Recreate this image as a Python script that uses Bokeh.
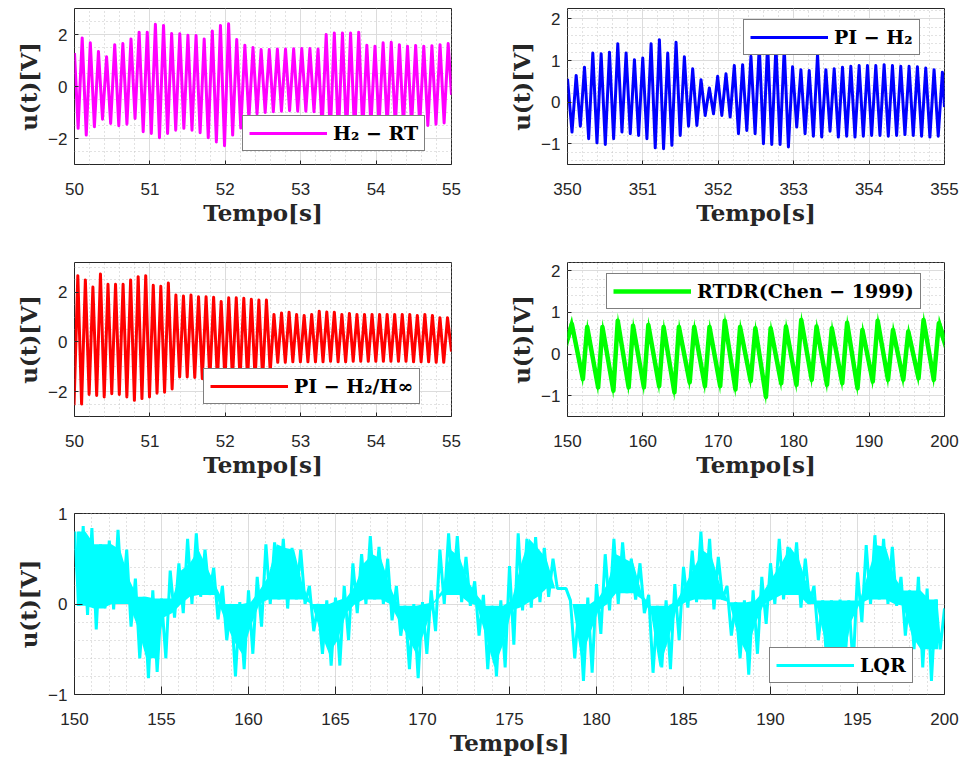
import numpy as np
from bokeh.plotting import figure
from bokeh.layouts import column, row
from bokeh.models import Range1d, FixedTicker, Legend, LegendItem
from bokeh.embed import file_html
from bokeh.resources import INLINE

# ---------------------------------------------------------------- data
# H2 - RT, 50..55 s : peak and trough of every cycle
h2rt_peaks = [1.87, 1.68, 1.35, 1.14, 1.61, 1.65, 1.83, 2.09, 2.09, 2.39,
              2.35, 2.04, 2.03, 1.97, 1.96, 1.83, 2.13, 2.35, 2.41, 1.81,
              1.59, 1.50, 1.42, 1.42, 1.44, 1.44, 1.45, 1.46, 1.46, 1.44,
              2.00, 2.06, 2.06, 2.06, 2.09, 1.59, 1.55, 1.68, 1.70, 1.61,
              1.55, 1.58, 1.55, 1.57, 1.61, 1.65]
h2rt_troughs = [-1.61, -1.87, -1.55, -1.26, -1.42, -1.51, -1.45, -1.23, -1.74, -1.81,
                -1.97, -1.81, -1.68, -1.61, -1.68, -1.78, -1.97, -2.13, -2.28, -1.87,
                -1.60, -1.25, -1.05, -1.00, -0.97, -0.95, -0.93, -0.95, -0.95, -0.97,
                -1.60, -1.85, -1.90, -1.90, -1.90, -1.70, -1.50, -1.50, -1.55, -1.55,
                -1.50, -1.50, -1.50, -1.50, -1.45, -1.40]
h2rt_peak_times = (50.102, 54.956)
h2rt_start = (50.0, 1.29)
h2rt_end = (55.0, -0.32)

# PI - H2, 350..355 s
pih2_peaks = [0.64, 0.84, 1.18, 1.16, 1.20, 1.40, 1.18, 1.02, 1.06, 1.40,
              1.50, 1.18, 1.44, 1.09, 0.80, 0.54, 0.34, 0.62, 0.68, 0.88,
              0.90, 1.10, 1.35, 1.40, 1.35, 1.30, 0.85, 0.78, 0.76, 1.15,
              0.78, 0.80, 0.84, 0.86, 0.88, 0.88, 0.88, 0.90, 0.88, 0.86,
              0.86, 0.85, 0.82, 0.78, 0.72]
pih2_troughs = [-0.72, -0.58, -0.88, -0.98, -1.02, -0.88, -0.72, -0.76, -0.80, -0.88,
                -1.10, -1.12, -1.04, -0.80, -0.58, -0.56, -0.32, -0.28, -0.32, -0.36,
                -0.76, -0.68, -0.76, -1.00, -1.02, -1.02, -1.08, -0.60, -0.76, -0.82,
                -0.84, -0.70, -0.84, -0.82, -0.84, -0.82, -0.80, -0.80, -0.82, -0.80,
                -0.78, -0.80, -0.82, -0.84, -0.82]
pih2_peak_times = (350.115, 354.972)
pih2_start = (350.0, 0.56)
pih2_end = (355.0, -0.12)

# PI - H2/Hinf, 50..55 s
mix_peaks = [2.67, 2.50, 2.21, 2.74, 2.32, 2.32, 2.32, 2.50, 2.63, 2.67,
             2.28, 2.24, 2.37, 1.89, 1.85, 1.89, 1.82, 1.82, 1.80, 1.63,
             1.78, 1.78, 1.76, 1.72, 1.69, 1.69, 1.11, 1.17, 1.20, 1.11,
             1.07, 1.11, 1.24, 1.21, 1.20, 1.11, 1.15, 1.11, 1.11, 1.11,
             1.11, 1.11, 1.11, 1.11, 1.11, 1.07, 1.11, 1.07, 0.98, 0.98]
mix_troughs = [-2.55, -2.50, -2.11, -2.15, -2.21, -2.08, -2.11, -2.21, -2.35, -2.28,
               -2.21, -2.06, -2.02, -1.89, -1.41, -1.41, -1.43, -1.48, -1.50, -1.50,
               -1.52, -1.50, -1.50, -1.52, -1.50, -1.50, -1.20, -0.82, -0.82, -0.80,
               -0.80, -0.80, -0.80, -0.80, -0.78, -0.80, -0.80, -0.78, -0.78, -0.78,
               -0.78, -0.78, -0.78, -0.78, -0.78, -0.80, -0.80, -0.80, -0.82, -0.82]
mix_peak_times = (50.044, 54.947)
mix_end = (55.0, -0.39)

# RTDR (Chen - 1999), 150..200 s : cycle extremes of the noisy trace
rtdr_peaks = [0.92, 0.85, 0.85, 1.00, 0.88, 0.90, 0.85, 0.85, 0.85, 0.85,
              1.00, 0.85, 0.82, 0.82, 0.86, 1.02, 0.86, 0.82, 0.95, 0.78,
              1.00, 0.78, 0.74, 1.02, 0.94]
rtdr_troughs = [-0.80, -1.00, -1.08, -1.00, -1.00, -0.97, -1.12, -0.88, -0.97, -0.97,
                -1.05, -0.85, -1.23, -0.90, -0.94, -0.82, -0.94, -0.90, -1.02, -0.86,
                -0.82, -0.82, -0.78, -0.82]
rtdr_peak_times = (150.58, 199.25)
rtdr_trough_times = (152.04, 198.58)
rtdr_start = (150.0, 0.35)
rtdr_end = (200.0, 0.30)
rtdr_noise = 0.2

# LQR, 150..200 s : upper / lower excursion of each half second
lqr_hi = [0.80, 0.86, 0.84, 0.66, 0.70, 0.82, 0.60, 0.28, 0.08, 0.15,
          0.06, 0.37, 0.45, 0.72, 0.78, 0.60, 0.40, 0.20, 0.00, 0.02,
          0.15, 0.30, 0.66, 0.68, 0.72, 0.62, 0.60, 0.20, 0.00, 0.04,
          0.07, 0.20, 0.45, 0.55, 0.75, 0.63, 0.50, 0.20, -0.02, 0.00,
          0.02, 0.15, 0.60, 0.78, 0.75, 0.52, 0.25, 0.10, -0.02, 0.04,
          0.42, 0.78, 0.72, 0.74, 0.62, 0.50, 0.17, 0.04, 0.00, 0.07,
          0.22, 0.55, 0.72, 0.68, 0.50, 0.45, 0.10, -0.02, 0.04, 0.22,
          0.41, 0.59, 0.80, 0.72, 0.52, 0.20, 0.02, 0.04, 0.15, 0.30,
          0.45, 0.72, 0.63, 0.68, 0.50, 0.20, 0.04, 0.04, 0.05, 0.04,
          0.35, 0.65, 0.76, 0.72, 0.63, 0.30, 0.15, 0.30, 0.17, 0.05]
lqr_lo = [-0.02, -0.12, -0.28, -0.05, -0.06, 0.00, -0.25, -0.60, -0.82, -0.75,
          -0.60, -0.15, -0.10, 0.00, 0.08, 0.10, -0.17, -0.40, -0.80, -0.72,
          -0.55, -0.25, 0.00, 0.05, -0.05, 0.05, 0.00, -0.30, -0.55, -0.68,
          -0.68, -0.40, -0.10, 0.00, 0.05, 0.00, -0.18, -0.35, -0.72, -0.82,
          -0.55, -0.30, 0.00, 0.10, 0.02, -0.02, -0.35, -0.72, -0.80, -0.70,
          -0.45, -0.07, -0.04, 0.02, 0.08, 0.17, 0.17, -0.60, -0.85, -0.76,
          -0.33, -0.07, 0.00, 0.12, 0.05, -0.10, -0.76, -0.70, -0.72, -0.40,
          -0.04, 0.02, 0.05, -0.06, 0.05, -0.35, -0.60, -0.78, -0.55, -0.22,
          0.00, 0.05, 0.10, -0.04, 0.00, -0.40, -0.70, -0.75, -0.75, -0.70,
          -0.20, 0.00, 0.05, 0.00, -0.02, -0.35, -0.50, -0.70, -0.85, -0.50]
lqr_t0, lqr_step = 150.0, 0.5
lqr_end = (200.0, -0.05)

# ---------------------------------------------------------------- style
SANS = "Liberation Sans"
SERIF = "DejaVu Serif"
DARK = "#262626"
LW = 3.0


def oscillation(peaks, troughs, peak_times, start=None, end=None):
    """Trough -> peak sequence, one trough half a period before each peak."""
    tp = np.linspace(peak_times[0], peak_times[1], len(peaks))
    half = (tp[1] - tp[0]) / 2.0
    t, u = [], []
    if start is not None:
        t.append(start[0]); u.append(start[1])
    for tk, pk, tr in zip(tp, peaks, troughs):
        t += [tk - half, tk]
        u += [tr, pk]
    if end is not None:
        t.append(end[0]); u.append(end[1])
    return t, u


def panel(width, height, borders, xr, yr, xticks, xminor, yticks, yminor, tick_len):
    left, right, top, bottom = borders
    p = figure(width=width, height=height,
               x_range=Range1d(*xr), y_range=Range1d(*yr),
               output_backend="svg", toolbar_location=None,
               min_border_left=left, min_border_right=right,
               min_border_top=top, min_border_bottom=bottom)
    p.background_fill_color = "white"
    p.border_fill_color = "white"
    p.outline_line_color = DARK
    p.outline_line_width = 1

    xt = FixedTicker(ticks=list(xticks), minor_ticks=[float(v) for v in xminor])
    yt = FixedTicker(ticks=list(yticks), minor_ticks=[float(v) for v in yminor])
    p.xaxis.ticker = xt
    p.yaxis.ticker = yt
    for ax in p.axis:
        ax.axis_line_color = None
        ax.major_tick_in = tick_len
        ax.major_tick_out = 0
        ax.major_tick_line_color = DARK
        ax.minor_tick_in = 0
        ax.minor_tick_out = 0
        ax.major_label_text_font = SANS
        ax.major_label_text_font_size = "17px"
        ax.major_label_text_color = DARK

    bx, ly = p.below[0], p.left[0]
    bx.major_label_standoff = 18
    ly.major_label_standoff = 7
    bx.axis_label = "Tempo[s]"
    ly.axis_label = "u(t)[V]"
    for ax, st in ((bx, 1), (ly, 3)):
        ax.axis_label_text_font = SERIF
        ax.axis_label_text_font_style = "bold"
        ax.axis_label_text_font_size = "23px"
        ax.axis_label_text_color = DARK
        ax.axis_label_standoff = st

    p.xgrid.ticker = xt
    p.ygrid.ticker = yt
    for g in (p.xgrid, p.ygrid):
        g.grid_line_color = "#dcdcdc"
        g.grid_line_width = 1
        g.minor_grid_line_color = "#c4c4c4"
        g.minor_grid_line_dash = "1 3"
        g.minor_grid_line_width = 1
    return p


def add_legend(p, renderer, label, loc):
    lg = Legend(items=[LegendItem(label=label, renderers=[renderer])], location=loc)
    lg.label_text_font = SERIF
    lg.label_text_font_style = "bold"
    lg.label_text_font_size = "19px"
    lg.label_text_color = "black"
    lg.glyph_width = 78
    lg.glyph_height = 20
    lg.label_height = 20
    lg.label_standoff = 6
    lg.padding = 6
    lg.spacing = 0
    lg.margin = 0
    lg.border_line_color = "black"
    lg.border_line_width = 1
    lg.background_fill_color = "white"
    lg.background_fill_alpha = 1.0
    p.add_layout(lg)


# ---------------------------------------------------------------- panels
p1 = panel(480, 250, (74, 29, 8, 86), (50, 55), (-3, 3),
           range(50, 56), np.arange(50, 55.01, 0.2), [-2, 0, 2], np.arange(-3, 3.01, 0.5), 4)
t, u = oscillation(h2rt_peaks, h2rt_troughs, h2rt_peak_times, h2rt_start, h2rt_end)
r1 = p1.line(t, u, line_color="#ff00ff", line_width=LW, line_join="round")
add_legend(p1, r1, "H\u2082 \u2212 RT", (168, 13))

p2 = panel(483, 250, (87, 19, 8, 86), (350, 355), (-1.5, 2.25),
           range(350, 356), np.arange(350, 355.01, 0.2), [-1, 0, 1, 2], np.arange(-1.4, 2.21, 0.2), 4)
t, u = oscillation(pih2_peaks, pih2_troughs, pih2_peak_times, pih2_start, pih2_end)
r2 = p2.line(t, u, line_color="#0000ff", line_width=LW, line_join="round")
add_legend(p2, r2, "PI \u2212 H\u2082", (176, 109))

p3 = panel(480, 240, (74, 29, 8, 74), (50, 55), (-3, 3.2),
           range(50, 56), np.arange(50, 55.01, 0.2), [-2, 0, 2], np.arange(-3, 3.01, 0.5), 4)
t, u = oscillation(mix_peaks, mix_troughs, mix_peak_times, None, mix_end)
r3 = p3.line(t, u, line_color="#ff0000", line_width=LW, line_join="round")
add_legend(p3, r3, "PI \u2212 H\u2082/H\u221e", (129, 12))

p4 = panel(483, 240, (87, 19, 12, 74), (150, 200), (-1.5, 2.2),
           range(150, 201, 10), np.arange(150, 200.01, 2), [-1, 0, 1, 2], np.arange(-1.4, 2.21, 0.2), 4)
tp = np.linspace(rtdr_peak_times[0], rtdr_peak_times[1], len(rtdr_peaks))
tt = np.linspace(rtdr_trough_times[0], rtdr_trough_times[1], len(rtdr_troughs))
pts = [rtdr_start] + [(a, b - rtdr_noise) for a, b in zip(tp, rtdr_peaks)] \
      + [(a, b + rtdr_noise) for a, b in zip(tt, rtdr_troughs)] + [rtdr_end]
pts.sort()
t4 = np.array([a for a, _ in pts])
u4 = np.array([b for _, b in pts])
p4.varea(x=t4, y1=u4 - rtdr_noise, y2=u4 + rtdr_noise, fill_color="#00ff00")
r4 = p4.line(t4, u4, line_color="#00ff00", line_width=4.5, line_join="round")
add_legend(p4, r4, "RTDR(Chen \u2212 1999)", (39, 107))

p5 = panel(963, 270, (74, 19, 23, 66), (150, 200), (-1, 1),
           range(150, 201, 5), np.arange(150, 200.01, 1), [-1, 0, 1], np.arange(-1, 1.01, 0.2), 8)
hi = np.array(lqr_hi)
lo = np.array(lqr_lo)
t_hi = lqr_t0 + lqr_step * np.arange(len(hi))
t_lo = t_hi + lqr_step / 2
# dense core of the trace: between the lowest neighbouring top and the highest neighbouring bottom
hi_pad = np.concatenate([[hi[0]], hi, [hi[-1]]])
lo_pad = np.concatenate([[lo[0]], lo, [lo[-1]]])
core_top = np.minimum(np.minimum(hi_pad[:-2], hi_pad[1:-1]), hi_pad[2:])
core_bot = np.maximum(np.maximum(lo_pad[:-2], lo_pad[1:-1]), lo_pad[2:])
core_bot = np.minimum(core_bot, core_top)
p5.varea(x=t_hi + lqr_step / 4, y1=core_bot, y2=core_top, fill_color="#00ffff")
t5 = np.empty(2 * len(t_hi)); t5[0::2] = t_hi; t5[1::2] = t_lo
u5 = np.empty(2 * len(t_hi)); u5[0::2] = hi; u5[1::2] = lo
r5 = p5.line(np.append(t5, lqr_end[0]), np.append(u5, lqr_end[1]),
             line_color="#00ffff", line_width=3)
add_legend(p5, r5, "LQR", (695, 11))

layout = column(row(p1, p2), row(p3, p4), p5)
open("out.html", "w").write(file_html(layout, INLINE))
